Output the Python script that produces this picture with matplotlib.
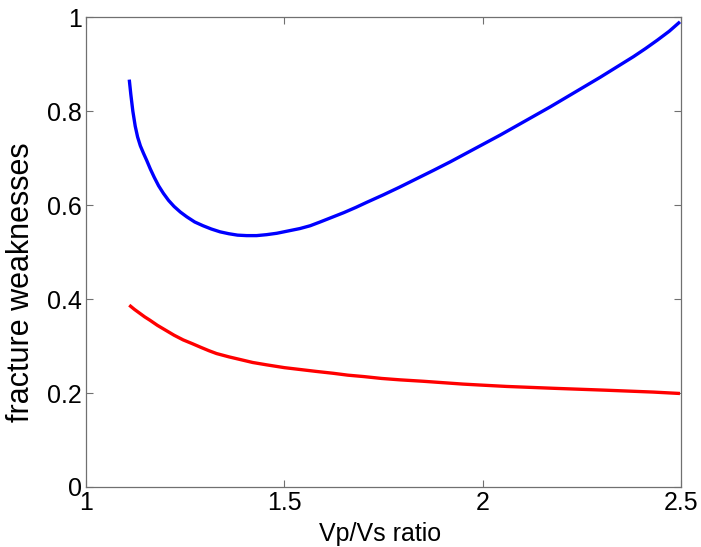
import numpy as np
import matplotlib.pyplot as plt

# ===== data =====
vpvs_blue = [1.109, 1.113, 1.118, 1.124, 1.130, 1.137, 1.145, 1.153, 1.162, 1.172,
             1.183, 1.195, 1.208, 1.222, 1.238, 1.254, 1.274, 1.295, 1.316, 1.338,
             1.360, 1.382, 1.405, 1.430, 1.455, 1.481, 1.510, 1.539, 1.565, 1.590,
             1.620, 1.650, 1.680, 1.708, 1.750, 1.790, 1.833, 1.876, 1.918, 1.960,
             2.002, 2.044, 2.086, 2.128, 2.170, 2.212, 2.254, 2.296, 2.338, 2.380,
             2.410, 2.440, 2.470, 2.497]
dT_blue = [0.867, 0.835, 0.800, 0.768, 0.745, 0.726, 0.710, 0.695, 0.677, 0.659,
           0.641, 0.625, 0.610, 0.597, 0.585, 0.575, 0.564, 0.556, 0.549, 0.543,
           0.539, 0.536, 0.535, 0.535, 0.537, 0.540, 0.545, 0.550, 0.556, 0.564,
           0.574, 0.584, 0.595, 0.606, 0.622, 0.638, 0.656, 0.674, 0.692, 0.711,
           0.730, 0.749, 0.769, 0.789, 0.809, 0.830, 0.851, 0.872, 0.894, 0.916,
           0.933, 0.951, 0.970, 0.990]

vpvs_red = [1.109, 1.122, 1.135, 1.148, 1.161, 1.180, 1.200, 1.222, 1.245, 1.268,
            1.290, 1.310, 1.329, 1.360, 1.390, 1.420, 1.455, 1.500, 1.540, 1.580,
            1.623, 1.660, 1.700, 1.745, 1.792, 1.850, 1.900, 1.950, 1.993, 2.060,
            2.120, 2.180, 2.245, 2.310, 2.370, 2.430, 2.497]
dN_red = [0.387, 0.378, 0.370, 0.362, 0.355, 0.344, 0.334, 0.323, 0.313, 0.305,
          0.297, 0.290, 0.284, 0.277, 0.271, 0.265, 0.260, 0.254, 0.250, 0.246,
          0.242, 0.238, 0.235, 0.231, 0.228, 0.225, 0.222, 0.219, 0.217, 0.214,
          0.212, 0.210, 0.208, 0.206, 0.204, 0.202, 0.199]

xticks = [1, 1.5, 2, 2.5]
yticks = [0, 0.2, 0.4, 0.6, 0.8, 1]
# =======================================

plt.rcParams['font.family'] = ['Liberation Sans', 'DejaVu Sans']

fig = plt.figure(figsize=(7.01, 5.47), dpi=100)
ax = fig.add_axes([0.1227, 0.1097, 0.849, 0.859])

ax.plot(vpvs_blue, dT_blue, color='#0000ff', lw=2.4, solid_capstyle='butt')
ax.plot(vpvs_red, dN_red, color='#ff0000', lw=2.4, solid_capstyle='butt')

ax.set_xlim(1, 2.5)
ax.set_ylim(0, 1)
ax.set_xticks(xticks)
ax.set_xticklabels(['1', '1.5', '2', '2.5'])
ax.set_yticks(yticks)
ax.set_yticklabels(['0', '0.2', '0.4', '0.6', '0.8', '1'])
ax.tick_params(direction='in', top=True, right=True, length=5, width=0.8,
               colors='#707070', labelcolor='black', labelsize=18, pad=3)
for s in ax.spines.values():
    s.set_color('#707070')
    s.set_linewidth(0.9)

ax.set_xlabel('Vp/Vs ratio', fontsize=18)
ax.xaxis.set_label_coords(0.494, -0.075)
ax.set_ylabel('fracture weaknesses', fontsize=22, va='center')
ax.yaxis.set_label_coords(-0.109, 0.436)

fig.savefig('out.png', dpi=100)
